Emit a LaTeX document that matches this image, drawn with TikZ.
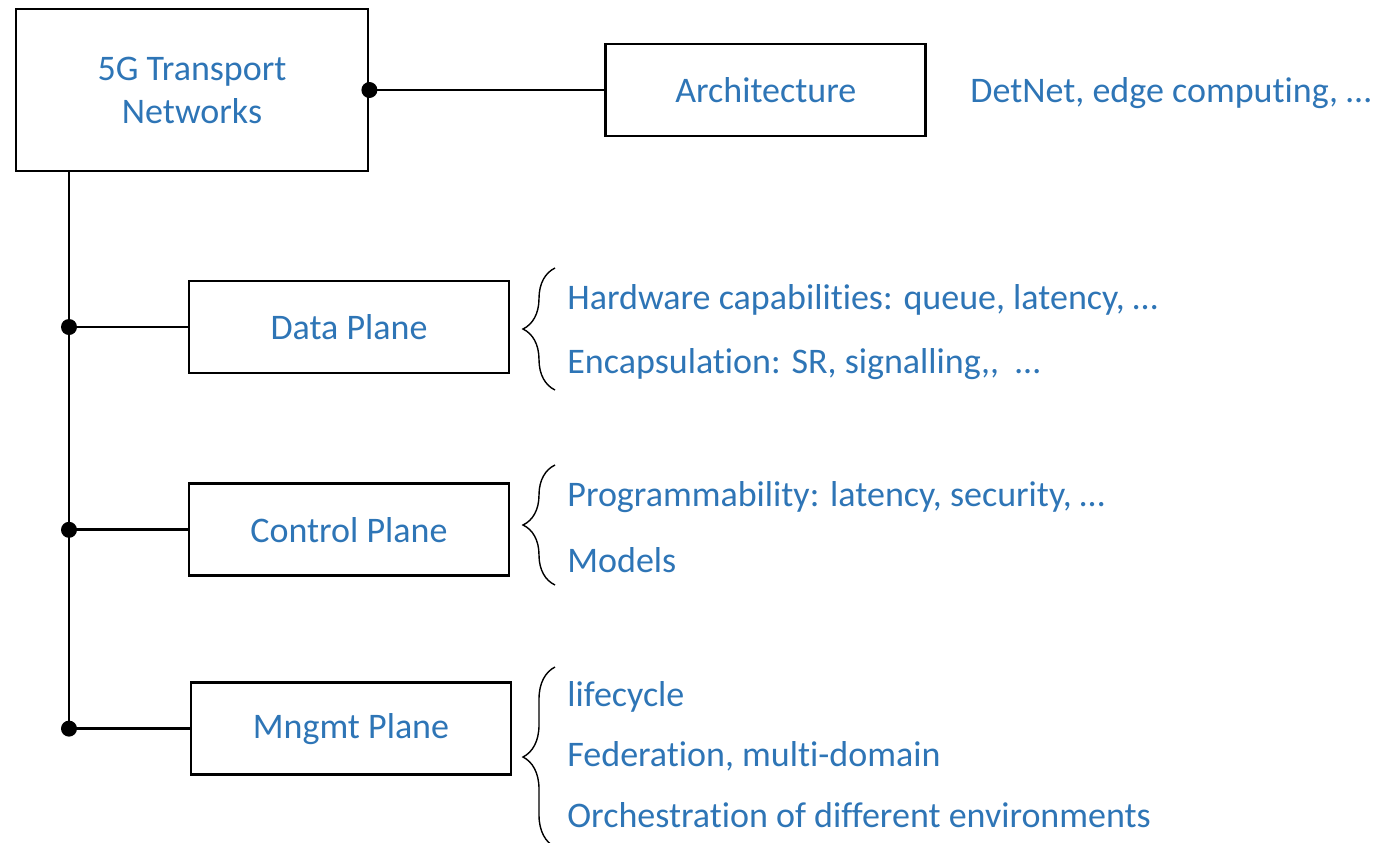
\documentclass[tikz,border=0pt]{standalone}
\usepackage{fontspec}
\setmainfont{Carlito}[Ligatures={NoCommon}]
\usepackage{tikz}
\usetikzlibrary{positioning,decorations.pathreplacing}
\definecolor{txtblue}{HTML}{2E75B6}
\tikzstyle{block} = [rectangle, draw, line width=1.4pt, text=txtblue, align=center, minimum width=160pt, minimum height=46pt, font=\fontsize{18}{21.5}\selectfont]
\tikzstyle{item} = [anchor=west, text=txtblue, inner sep=0pt, font=\fontsize{18}{21.5}\selectfont]
\tikzstyle{link} = [line width=1.4pt]
\tikzstyle{brc} = [decorate, decoration={brace, amplitude=16pt}, line width=0.7pt]

\begin{document}
\begin{tikzpicture}[x=0.5pt, y=-0.5pt]
   \useasboundingbox (0,0) rectangle (1375,842);
   \node[block, minimum width=176pt, minimum height=81pt] (main) at (192,90) {5G Transport\\Networks};
   \node[block] (arch) [right=117.5pt of main] {Architecture};
   \node[item] (detnet) at (970,93) {DetNet, edge computing, …};
   \node[block] (data) at (349,327) {Data Plane};
   \node[block] (ctrl) [below=54pt of data] {Control Plane};
   \node[block] (mngmt) [below=52pt of ctrl, xshift=1pt] {Mngmt Plane};
   % items next to each plane
   \node[item] (hw)   at (567,300) {Hardware capabilities: queue, latency, …};
   \node[item] (enc)  at (567,364) {Encapsulation: SR, signalling,{},\ \ …};
   \node[item] (prog) at (567,497) {Programmability: latency, security, …};
   \node[item] (mod)  at (567,560) {Models};
   \node[item] (life) at (567,697) {lifecycle};
   \node[item] (fed)  at (567,756) {Federation, multi-domain};
   \node[item] (orch) at (567,815) {Orchestration of different environments};
   % trunk and branches
   \coordinate (trunk) at (69,171);
   \draw[line width=0.65pt] (trunk) -- (trunk |- mngmt.west);
   \draw[link] (main.east) -- (arch.west);
   \fill (main.east) circle (4pt);
   \foreach \p in {data, ctrl, mngmt} {
      \draw[link] (trunk |- \p.west) -- (\p.west);
      \fill (trunk |- \p.west) circle (4pt);
   }
   % braces
   \draw[brc] (555,390) -- (555,268);
   \draw[brc] (555,585) -- (555,465);
   \draw[brc] (555,847) -- (555,667);
\end{tikzpicture}
\end{document}
